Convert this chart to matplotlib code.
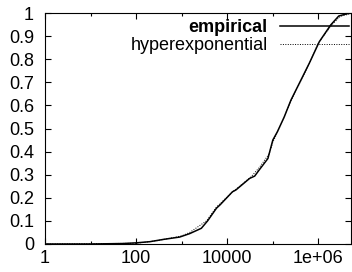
import matplotlib
matplotlib.use("Agg")
import matplotlib.pyplot as plt
from matplotlib.ticker import FixedLocator, NullFormatter

plt.rcParams['font.family'] = ['Liberation Sans', 'DejaVu Sans']

# empirical CDF
emp_x = [1, 10, 50, 100, 200, 400, 900, 1500, 2700, 3700, 5800, 7000,
         13000, 15500, 31000, 40000, 50000, 78000, 100000, 126000,
         178000, 250000, 630000, 1050000, 1860000, 2800000, 4700000, 5200000]
emp_y = [0, 0, 0.002, 0.005, 0.01, 0.02, 0.03, 0.045, 0.068, 0.10, 0.155, 0.17,
         0.226, 0.234, 0.284, 0.294, 0.32, 0.37, 0.45, 0.486,
         0.55, 0.623, 0.782, 0.876, 0.948, 0.987, 0.999, 1.0]

# hyperexponential fit
hyp_x = [1, 100, 300, 1000, 1500, 3500, 5800, 13000, 20000, 33000, 50000,
         83000, 100000, 178000, 250000, 630000, 1000000, 2000000, 3000000, 5200000]
hyp_y = [0, 0.003, 0.015, 0.035, 0.05, 0.10, 0.16, 0.225, 0.255, 0.29, 0.33,
         0.39, 0.44, 0.55, 0.62, 0.78, 0.87, 0.95, 0.985, 0.998]

x_major = [1, 100, 10000, 1000000]
x_minor = [10, 1000, 100000]
x_labels = ["1", "100", "10000", "1e+06"]
y_ticks = [0, 0.1, 0.2, 0.3, 0.4, 0.5, 0.6, 0.7, 0.8, 0.9, 1]
y_labels = ["0", "0.1", "0.2", "0.3", "0.4", "0.5", "0.6", "0.7", "0.8", "0.9", "1"]

fig = plt.figure(figsize=(3.52, 2.72), dpi=100)
ax = fig.add_axes([45/352, 28/272, 306/352, 231/272])

ax.plot(emp_x, emp_y, color='black', lw=1.1, label='empirical')
ax.plot(hyp_x, hyp_y, color='black', lw=0.7, linestyle=(0, (1, 1.5)),
        label='hyperexponential')

ax.set_xscale('log')
ax.set_xlim(1, 5.2e6)
ax.set_ylim(0, 1)

ax.xaxis.set_major_locator(FixedLocator(x_major))
ax.xaxis.set_minor_locator(FixedLocator(x_minor))
ax.set_xticklabels(x_labels)
ax.xaxis.set_minor_formatter(NullFormatter())
ax.set_yticks(y_ticks)
ax.set_yticklabels(y_labels)

ax.tick_params(which='both', direction='in', top=True, right=True,
               labelsize=13, width=0.8)
ax.tick_params(which='major', length=4.5)
ax.tick_params(which='minor', length=2.5)
ax.tick_params(axis='y', pad=8)
ax.tick_params(axis='x', pad=4)

for s in ax.spines.values():
    s.set_linewidth(0.8)

leg = ax.legend(loc='upper right', bbox_to_anchor=(1.04, 1.035), frameon=False,
                markerfirst=False, fontsize=13, handlelength=3.8,
                handletextpad=0.7, labelspacing=0.05, borderpad=0.3)
leg.get_texts()[0].set_fontweight('bold')

fig.savefig("out.png", dpi=100)
